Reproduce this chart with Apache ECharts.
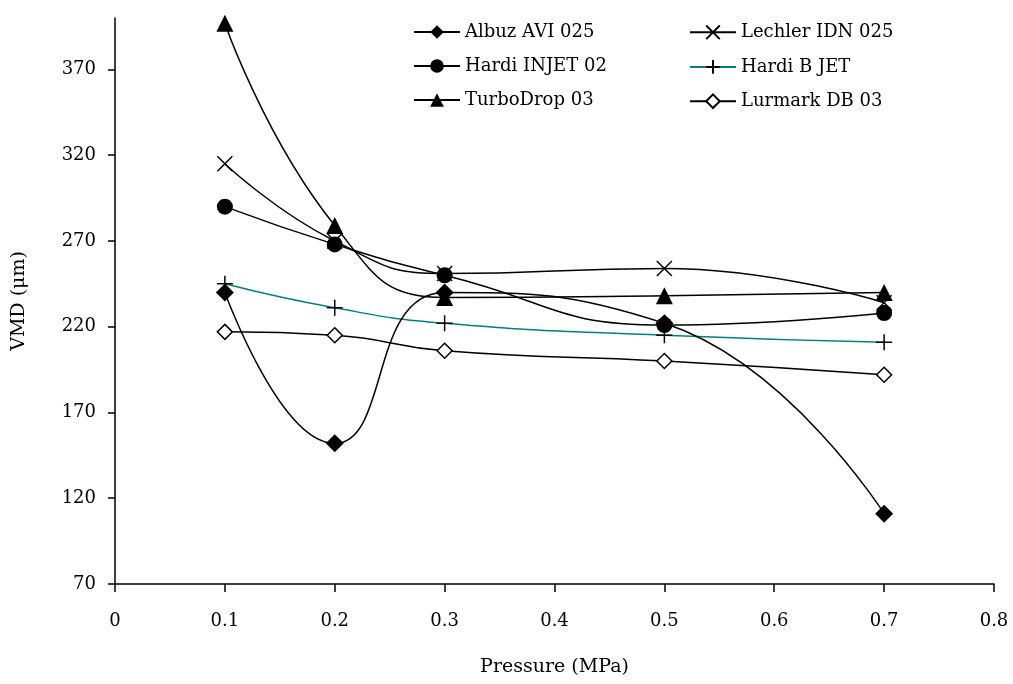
<!DOCTYPE html>
<html>
<head>
<meta charset="utf-8">
<script src="https://cdn.jsdelivr.net/npm/echarts@6/dist/echarts.min.js"></script>
<style>
  html, body { margin: 0; padding: 0; background: #fff; }
  #main { width: 1013px; height: 684px; }
</style>
</head>
<body>
<div id="main"></div>
<script type="text/javascript">
    // pressure values (MPa)
    var pressure = [0.1, 0.2, 0.3, 0.5, 0.7];

    // VMD (um) per nozzle
    var albuz     = [240, 152, 240, 222, 111];
    var hardiInjet = [290, 268, 250, 221, 228];
    var turbo     = [397, 279, 237, 238, 240];
    var lechler   = [315, 270, 251, 254, 234];
    var hardiB    = [245, 231, 222, 215, 211];
    var lurmark   = [217, 215, 206, 200, 192];

    var yTicks = [70, 120, 170, 220, 270, 320, 370];

    var FONT = 'DejaVu Serif';
    var crossPath = 'path://M0,0L10,10M10,0L0,10';
    var plusPath = 'path://M5,0L5,10M0,5L10,5';

    function pairs(vals) {
        var out = [];
        for (var i = 0; i < pressure.length; i++) {
            out.push([pressure[i], vals[i]]);
        }
        return out;
    }

    function makeSeries(name, vals, symbol, size, opts) {
        opts = opts || {};
        return {
            name: name,
            type: 'line',
            smooth: 0.5,
            data: pairs(vals),
            symbol: symbol,
            symbolSize: size,
            showAllSymbol: true,
            lineStyle: { color: opts.line || '#000', width: 1.5 },
            itemStyle: {
                color: opts.fill || '#000',
                borderColor: '#000',
                borderWidth: opts.bw || 0
            },
            emphasis: { disabled: true },
            z: opts.z || 2
        };
    }

    var myChart = echarts.init(document.getElementById('main'));

    var legendText = { fontFamily: FONT, fontSize: 18, color: '#000' };

    var option = {
        animation: false,
        textStyle: { fontFamily: FONT, color: '#000' },
        grid: { left: 115, right: 19, top: 18, bottom: 100 },
        legend: [
            {
                orient: 'vertical',
                left: 408, top: 18,
                itemWidth: 46, itemHeight: 17, itemGap: 16,
                textStyle: legendText,
                data: ['Albuz AVI 025', 'Hardi INJET 02', 'TurboDrop 03']
            },
            {
                orient: 'vertical',
                left: 684, top: 18,
                itemWidth: 46, itemHeight: 17, itemGap: 16,
                textStyle: legendText,
                data: ['Lechler IDN 025', 'Hardi B JET', 'Lurmark DB 03']
            }
        ],
        xAxis: {
            type: 'value',
            min: 0, max: 0.8, interval: 0.1,
            name: 'Pressure (MPa)',
            nameLocation: 'middle',
            nameGap: 74,
            nameTextStyle: { fontFamily: FONT, fontSize: 19, color: '#000' },
            axisLine: { lineStyle: { color: '#000', width: 1.5 } },
            axisTick: { show: true, inside: false, length: 8, lineStyle: { color: '#000', width: 1.5 } },
            axisLabel: { margin: 28, fontFamily: FONT, fontSize: 18, color: '#000' },
            splitLine: { show: false }
        },
        yAxis: {
            type: 'value',
            min: 70, max: 400, interval: 50,
            name: 'VMD (μm)',
            nameLocation: 'middle',
            nameGap: 86,
            nameRotate: 90,
            nameTextStyle: { fontFamily: FONT, fontSize: 19, color: '#000' },
            axisLine: { show: true, lineStyle: { color: '#000', width: 1.5 } },
            axisTick: { show: true, length: 7, customValues: yTicks, lineStyle: { color: '#000', width: 1.5 } },
            axisLabel: { margin: 19, customValues: yTicks, fontFamily: FONT, fontSize: 18, color: '#000' },
            splitLine: { show: false }
        },
        series: [
            makeSeries('Albuz AVI 025', albuz, 'diamond', 18, { z: 4 }),
            makeSeries('Hardi INJET 02', hardiInjet, 'circle', 16, { z: 4 }),
            makeSeries('TurboDrop 03', turbo, 'triangle', 17, { z: 4 }),
            makeSeries('Lechler IDN 025', lechler, crossPath, 15, { fill: 'none', bw: 1.5, z: 3 }),
            makeSeries('Hardi B JET', hardiB, plusPath, 16, { line: '#008080', fill: 'none', bw: 1.5, z: 3 }),
            makeSeries('Lurmark DB 03', lurmark, 'diamond', 15, { fill: '#fff', bw: 1.5, z: 3 })
        ]
    };
    myChart.setOption(option);
</script>
</body>
</html>
